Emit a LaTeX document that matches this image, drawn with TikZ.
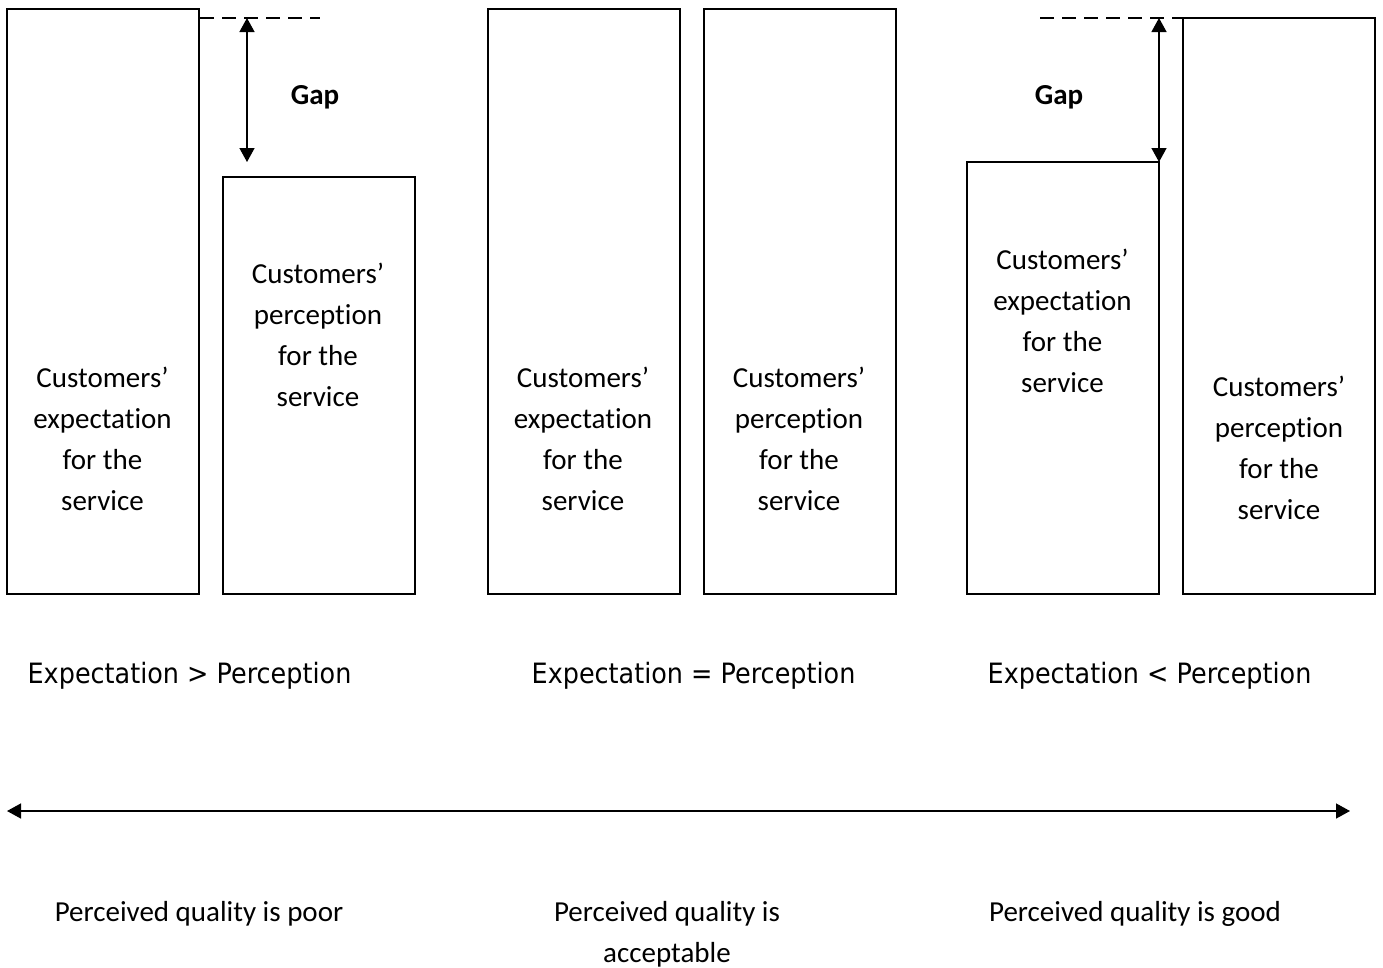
\documentclass[tikz,border=0pt]{standalone}
\usepackage{fontspec}
\setmainfont{Carlito}[Ligatures=NoCommon]
\newfontfamily\cmpfont{DejaVu Sans}[FakeStretch=0.91]
\usetikzlibrary{arrows.meta}
\usetikzlibrary{positioning}

\begin{document}
\begin{tikzpicture}[
			x=1pt, y=-1pt,
			bar/.style={
				draw=black,
				line width=1.4pt,
				minimum width=192pt,
				inner sep=0pt,
				outer sep=0pt,
			},
			bartext/.style={
				align=center,
				inner sep=0pt,
				font=\fontsize{29}{41}\selectfont,
			},
			cmplabel/.style={
				anchor=base,
				inner sep=0pt,
				font=\cmpfont\fontsize{28}{34}\selectfont,
			},
			verdict/.style={
				anchor=north,
				align=center,
				inner sep=0pt,
				font=\fontsize{29}{41}\selectfont,
			},
			gaplabel/.style={
				anchor=base,
				inner sep=0pt,
				font=\bfseries\fontsize{29}{33}\selectfont,
			},
			gaparrow/.style={
				line width=1.4pt,
				{Triangle[length=14pt,width=15pt]}-{Triangle[length=14pt,width=15pt]},
			},
			dimline/.style={
				line width=1.2pt,
				dash pattern=on 14pt off 8pt,
			},
			]
			\useasboundingbox (0,0) rectangle (1383,967);
			%% bars
			\node [bar, minimum height=585pt, anchor=south west] (exp1) at (7,594) {};
			\node [bar, minimum height=417pt, right=24pt of exp1.south east, anchor=south west] (perc1) {};
			\node [bar, minimum height=585pt, right=73pt of perc1.south east, anchor=south west] (exp2) {};
			\node [bar, minimum height=585pt, right=24pt of exp2.south east, anchor=south west] (perc2) {};
			\node [bar, minimum height=432pt, right=71pt of perc2.south east, anchor=south west] (exp3) {};
			\node [bar, minimum height=576pt, right=24pt of exp3.south east, anchor=south west] (perc3) {};
			%% texts in the bars
			\node [bartext] (exp1txt) at (102.5,439) {Customers’\\expectation\\for the\\service};
			\node [bartext] (perc1txt) at (318,335) {Customers’\\perception\\for the\\service};
			\node [bartext] (exp2txt) at (583,439) {Customers’\\expectation\\for the\\service};
			\node [bartext] (perc2txt) at (799,439) {Customers’\\perception\\for the\\service};
			\node [bartext] (exp3txt) at (1062.5,321) {Customers’\\expectation\\for the\\service};
			\node [bartext] (perc3txt) at (1279,448) {Customers’\\perception\\for the\\service};
			%% gaps
			\coordinate (dash1a) at (200,18);
			\coordinate (dash1b) at (320,18);
			\coordinate (gap1top) at (247,18);
			\coordinate (gap1bot) at (247,162);
			\draw[dimline] (dash1a) -- (dash1b);
			\draw[gaparrow] (gap1top) -- (gap1bot);
			\node [gaplabel] (gap1) at (315,104) {Gap};
			\coordinate (dash2a) at (1040,18);
			\coordinate (gap2top) at (1159,18);
			\draw[dimline] (dash2a) -- (perc3.north west);
			\draw[gaparrow] (gap2top) -- (exp3.north east);
			\node [gaplabel] (gap2) at (1059,104) {Gap};
			%% comparisons
			\node [cmplabel] (cmp1) at (189.5,683) {Expectation > Perception};
			\node [cmplabel] (cmp2) at (693.5,683) {Expectation = Perception};
			\node [cmplabel] (cmp3) at (1149.5,683) {Expectation < Perception};
			%% scale
			\coordinate (scaleL) at (7,811);
			\coordinate (scaleR) at (1350,811);
			\draw[gaparrow] (scaleL) -- (scaleR);
			\node [verdict] (poor) at (199,901) {Perceived quality is poor};
			\node [verdict] (ok) at (667,901) {Perceived quality is\\acceptable};
			\node [verdict] (good) at (1135,901) {Perceived quality is good};
		\end{tikzpicture}
\end{document}
